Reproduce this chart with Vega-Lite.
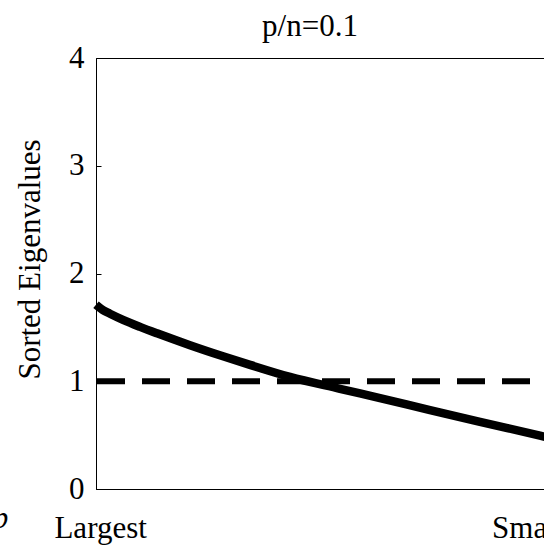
{
  "$schema": "https://vega.github.io/schema/vega-lite/v6.json",
  "autosize": "none",
  "padding": {"left": 96, "top": 58, "right": 0, "bottom": 58},
  "width": 460,
  "height": 431,
  "background": "white",
  "title": {
    "text": "p/n=0.1",
    "font": "Liberation Serif",
    "fontSize": 31,
    "fontWeight": "normal",
    "color": "black",
    "anchor": "middle",
    "frame": "group",
    "dx": -16,
    "dy": 35,
    "offset": 10,
    "baseline": "alphabetic"
  },
  "config": {
    "view": {"stroke": "black", "strokeWidth": 1},
    "axis": {"grid": false, "domainColor": "black", "domainWidth": 1, "labelColor": "black", "labelFont": "Liberation Serif", "labelFontSize": 31, "labelFlush": false, "labelOverlap": false, "labelBound": false, "titleFont": "Liberation Serif", "titleFontSize": 31, "titleFontWeight": "normal", "titleColor": "black"}
  },
  "datasets": {
    "curve": [
      {"rank": 0.0, "eigenvalue": 1.71},
      {"rank": 0.0152, "eigenvalue": 1.66},
      {"rank": 0.0304, "eigenvalue": 1.627},
      {"rank": 0.0587, "eigenvalue": 1.57},
      {"rank": 0.0957, "eigenvalue": 1.505},
      {"rank": 0.1326, "eigenvalue": 1.445},
      {"rank": 0.2043, "eigenvalue": 1.335},
      {"rank": 0.2761, "eigenvalue": 1.232},
      {"rank": 0.3348, "eigenvalue": 1.152},
      {"rank": 0.4217, "eigenvalue": 1.04},
      {"rank": 0.5304, "eigenvalue": 0.93},
      {"rank": 0.6174, "eigenvalue": 0.843},
      {"rank": 0.7261, "eigenvalue": 0.733},
      {"rank": 0.8348, "eigenvalue": 0.624},
      {"rank": 0.9652, "eigenvalue": 0.495},
      {"rank": 1.0, "eigenvalue": 0.46}
    ],
    "ref": [{"level": 1}],
    "side": [{"x": -0.191, "y": -0.36, "label": "p"}]
  },
  "layer": [
    {
      "data": {"name": "ref"},
      "mark": {"type": "rule", "color": "black", "strokeWidth": 6, "strokeDash": [28, 17], "strokeDashOffset": 19},
      "encoding": {"y": {"field": "level", "type": "quantitative", "scale": {"domain": [0, 4]}}}
    },
    {
      "data": {"name": "curve"},
      "mark": {"type": "line", "color": "black", "strokeWidth": 8.5, "interpolate": "monotone"},
      "encoding": {
        "x": {
          "field": "rank", "type": "quantitative", "scale": {"domain": [0, 1]},
          "axis": {"title": null, "values": [0.009, 0.976], "labelExpr": "datum.value < 0.5 ? 'Largest' : 'Smallest'", "ticks": false, "tickSize": 0, "labelBaseline": "alphabetic", "labelPadding": 48, "labelAlign": "center"}
        },
        "y": {
          "field": "eigenvalue", "type": "quantitative", "scale": {"domain": [0, 4]},
          "axis": {"title": "Sorted Eigenvalues", "values": [0, 1, 2, 3, 4], "format": "d", "tickColor": "black", "tickSize": -5, "tickWidth": 1, "labelPadding": 17, "titleX": -66, "titleY": 201, "titleAngle": -90, "titleAlign": "center", "titleBaseline": "middle"}
        }
      }
    },
    {
      "data": {"name": "side"},
      "mark": {"type": "text", "font": "Liberation Serif", "fontStyle": "italic", "fontSize": 31, "align": "right", "baseline": "alphabetic", "color": "black"},
      "encoding": {
        "x": {"field": "x", "type": "quantitative"},
        "y": {"field": "y", "type": "quantitative"},
        "text": {"field": "label"}
      }
    }
  ]
}
